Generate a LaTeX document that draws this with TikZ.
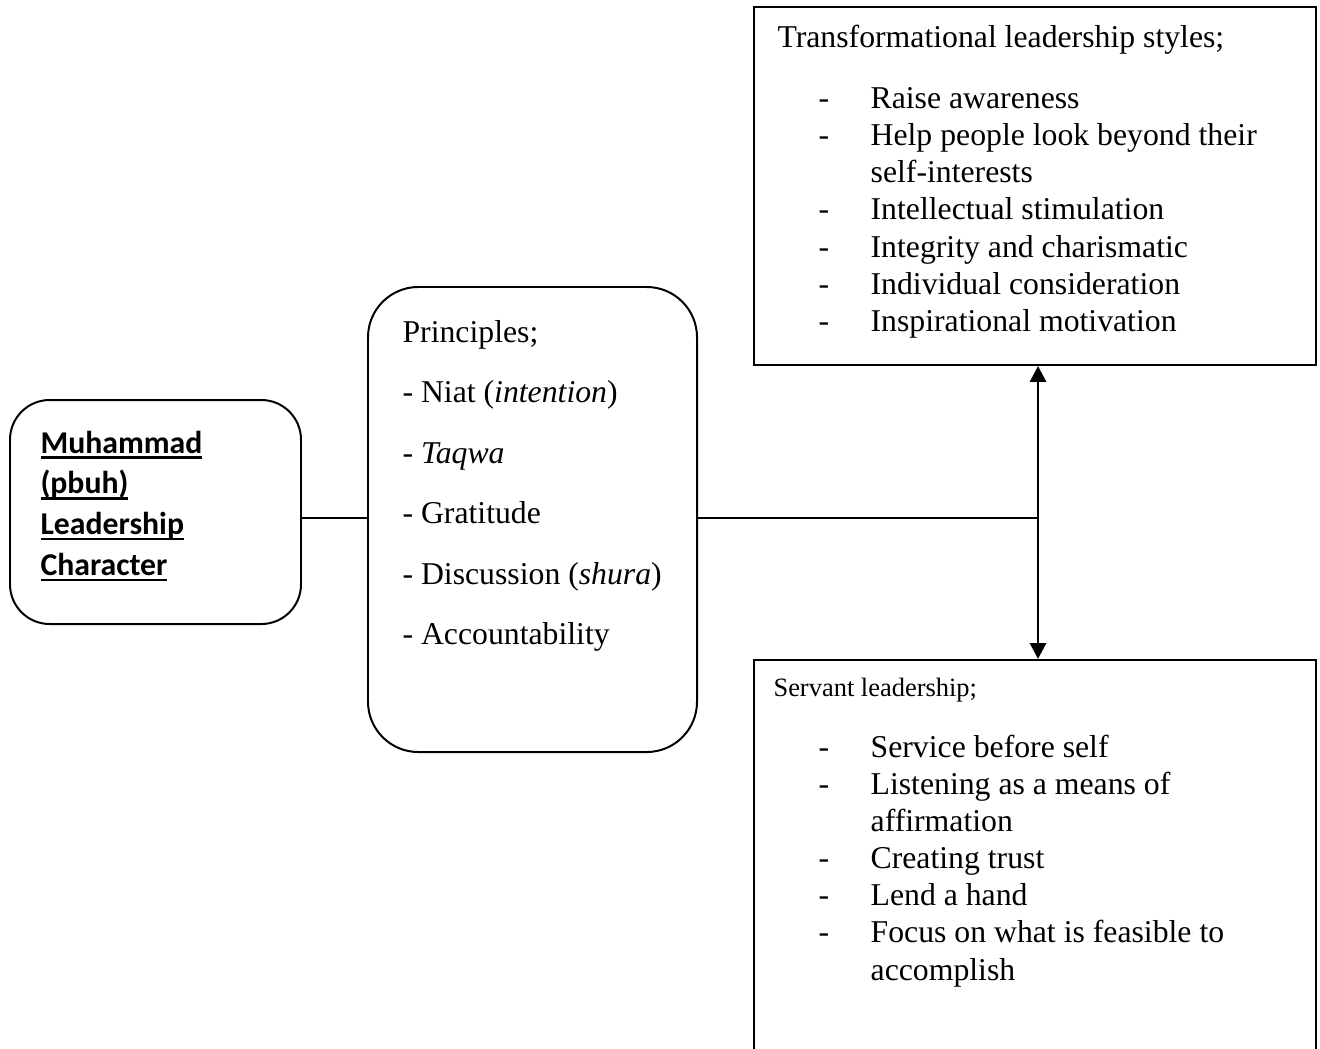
\documentclass[tikz,border=0pt]{standalone}
\usepackage{fontspec}
\setmainfont{Liberation Serif}
\newfontfamily\calib{Carlito}
\usetikzlibrary{arrows.meta,fit}
\newcommand{\ulx}[1]{\setbox0\hbox{#1}\rlap{\rule[-2.2pt]{\wd0}{0.9pt}}\box0}
\newcommand{\itm}[1]{\makebox[19.7pt][l]{-}#1}
\newcommand{\cnt}[1]{\hspace*{19.7pt}#1}
\begin{document}
\begin{tikzpicture}[x=0.378pt, y=-0.378pt,
  box/.style={draw, line width=0.75pt, inner sep=0pt},
  txt/.style={anchor=base west, inner sep=0pt},
  conn/.style={line width=0.75pt},
  dbl/.style={line width=1.1pt, {Triangle[length=6pt,width=6pt]}-{Triangle[length=6pt,width=6pt]}}]
\useasboundingbox (0,0) rectangle (1320,1048);
\fill[white] (0,0) rectangle (1320,1048);

\node[box, rounded corners=15pt, fit={(10,400) (301,624)}] (lead) {};
\node[box, rounded corners=19pt, fit={(368,287) (697,752)}] (prin) {};
\node[box, fit={(754,7) (1316,365)}] (trans) {};
\node[box, fit={(754,660) (1316,1080)}] (serv) {};

\node[txt] (leadtxt) at (40,453) {\fontsize{12}{15.4}\selectfont\calib\bfseries
  \begin{tabular}[t]{@{}l@{}}\ulx{Muhammad}\\ \ulx{(pbuh)}\\ \ulx{Leadership}\\ \ulx{Character}\end{tabular}};

\node[txt] (pritxt) at (402,342) {\fontsize{12}{22.9}\selectfont
  \begin{tabular}[t]{@{}l@{}}Principles;\\ - Niat (\textit{intention})\\ - \textit{Taqwa}\\ - Gratitude\\ - Discussion (\textit{shura})\\ - Accountability\end{tabular}};

\node[txt] (transtitle) at (777,47) {\fontsize{12}{14.1}\selectfont Transformational leadership styles;};
\node[txt] (translist) at (818,108) {\fontsize{12}{14.1}\selectfont
  \begin{tabular}[t]{@{}l@{}}\itm{Raise awareness}\\ \itm{Help people look beyond their}\\ \cnt{self-interests}\\ \itm{Intellectual stimulation}\\ \itm{Integrity and charismatic}\\ \itm{Individual consideration}\\ \itm{Inspirational motivation}\end{tabular}};

\node[txt] (servtitle) at (773,696) {\fontsize{10}{12}\selectfont Servant leadership;};
\node[txt] (servlist) at (818,757) {\fontsize{12}{14.05}\selectfont
  \begin{tabular}[t]{@{}l@{}}\itm{Service before self}\\ \itm{Listening as a means of}\\ \cnt{affirmation}\\ \itm{Creating trust}\\ \itm{Lend a hand}\\ \itm{Focus on what is feasible to}\\ \cnt{accomplish}\end{tabular}};

\coordinate (j) at (1038,518);
\draw[conn] (lead.east |- j) -- (prin.west |- j);
\draw[conn] (prin.east |- j) -- (j);
\draw[dbl] (j |- trans.south) -- (j |- serv.north);
\end{tikzpicture}
\end{document}
